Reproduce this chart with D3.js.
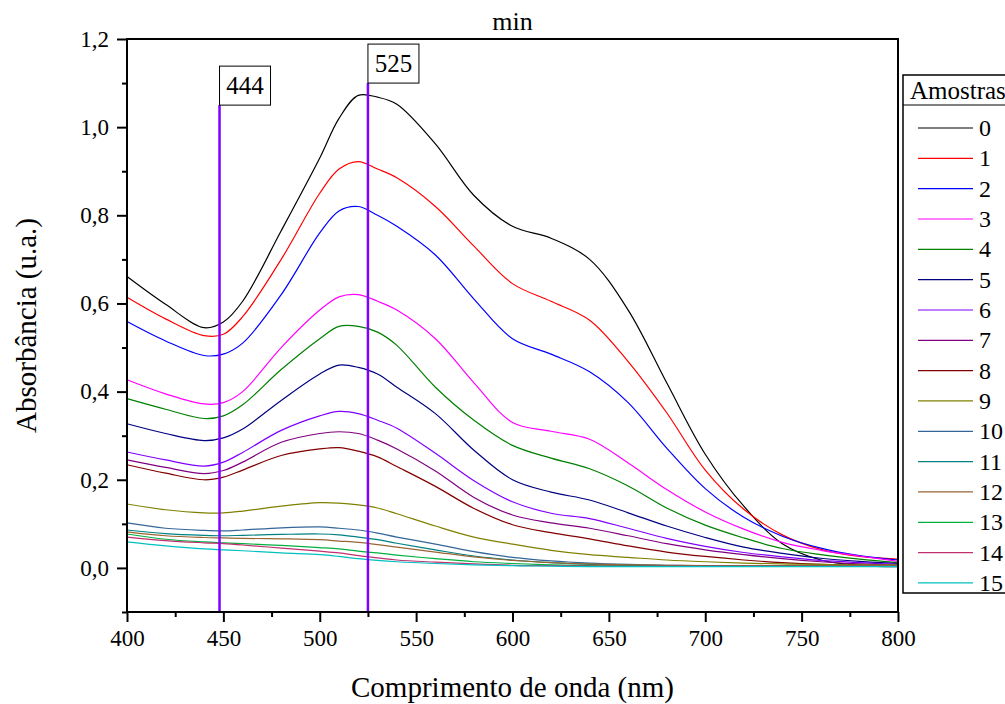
<!DOCTYPE html>
<html><head><meta charset="utf-8">
<script src="https://cdn.jsdelivr.net/npm/d3@7"></script>
</head><body style="margin:0">
<svg id="c" width="1005" height="704" style="font-family:'Liberation Serif','Times New Roman','Nimbus Roman',Tinos,serif"></svg>
<script>
// ---------- data ----------
const wavelengths = [400,420,440,450,460,480,500,510,520,530,540,560,580,600,620,640,660,680,700,720,740,760,780,800];
const s0  = [0.661,0.598,0.545,0.558,0.605,0.765,0.930,1.020,1.072,1.068,1.052,0.962,0.845,0.775,0.748,0.700,0.585,0.420,0.258,0.140,0.055,0.018,0.006,0.003];
const s1  = [0.614,0.565,0.527,0.530,0.570,0.700,0.850,0.905,0.922,0.905,0.885,0.820,0.730,0.645,0.605,0.562,0.468,0.352,0.222,0.133,0.075,0.042,0.026,0.020];
const s2  = [0.559,0.515,0.482,0.485,0.510,0.620,0.760,0.810,0.820,0.800,0.775,0.710,0.610,0.520,0.485,0.445,0.375,0.272,0.180,0.115,0.072,0.045,0.028,0.018];
const s3  = [0.427,0.395,0.372,0.375,0.400,0.500,0.585,0.615,0.620,0.605,0.585,0.520,0.420,0.330,0.310,0.292,0.238,0.178,0.127,0.088,0.058,0.040,0.027,0.015];
const s4  = [0.384,0.360,0.339,0.345,0.370,0.450,0.520,0.548,0.548,0.535,0.505,0.410,0.335,0.278,0.249,0.225,0.186,0.136,0.097,0.068,0.044,0.030,0.020,0.012];
const s5  = [0.327,0.305,0.289,0.295,0.315,0.380,0.440,0.460,0.455,0.440,0.410,0.350,0.267,0.200,0.172,0.154,0.125,0.095,0.069,0.047,0.033,0.022,0.015,0.010];
const s6  = [0.263,0.245,0.231,0.240,0.262,0.312,0.345,0.355,0.350,0.335,0.317,0.260,0.198,0.150,0.124,0.112,0.090,0.067,0.049,0.035,0.025,0.017,0.012,0.008];
const s7  = [0.245,0.228,0.214,0.221,0.240,0.285,0.305,0.309,0.305,0.290,0.270,0.220,0.160,0.120,0.102,0.090,0.073,0.055,0.041,0.030,0.021,0.014,0.009,0.006];
const s8  = [0.234,0.215,0.200,0.206,0.222,0.255,0.270,0.273,0.265,0.252,0.230,0.185,0.135,0.098,0.080,0.066,0.050,0.036,0.026,0.018,0.012,0.008,0.006,0.005];
const s9  = [0.145,0.132,0.125,0.125,0.129,0.140,0.148,0.147,0.143,0.136,0.123,0.095,0.070,0.054,0.040,0.030,0.024,0.018,0.014,0.011,0.009,0.008,0.007,0.007];
const s10 = [0.102,0.090,0.085,0.084,0.086,0.091,0.093,0.090,0.086,0.079,0.070,0.054,0.037,0.024,0.016,0.011,0.008,0.006,0.005,0.004,0.004,0.004,0.004,0.004];
const s11 = [0.086,0.078,0.074,0.073,0.074,0.076,0.077,0.075,0.070,0.064,0.056,0.041,0.027,0.018,0.012,0.008,0.006,0.005,0.005,0.004,0.004,0.004,0.004,0.004];
const s12 = [0.082,0.073,0.069,0.068,0.067,0.066,0.064,0.061,0.058,0.053,0.047,0.036,0.025,0.017,0.012,0.009,0.007,0.006,0.005,0.005,0.005,0.005,0.005,0.005];
const s13 = [0.077,0.065,0.059,0.057,0.055,0.051,0.046,0.043,0.038,0.034,0.029,0.021,0.014,0.010,0.007,0.005,0.005,0.004,0.004,0.004,0.004,0.004,0.004,0.004];
const s14 = [0.070,0.062,0.057,0.055,0.052,0.045,0.038,0.034,0.028,0.023,0.018,0.013,0.009,0.006,0.005,0.004,0.004,0.004,0.004,0.004,0.004,0.004,0.004,0.004];
const s15 = [0.059,0.050,0.043,0.041,0.039,0.034,0.030,0.026,0.021,0.017,0.014,0.010,0.007,0.005,0.004,0.003,0.003,0.003,0.003,0.003,0.003,0.003,0.003,0.003];
const seriesValues = [s0,s1,s2,s3,s4,s5,s6,s7,s8,s9,s10,s11,s12,s13,s14,s15];
const seriesNames = ["0","1","2","3","4","5","6","7","8","9","10","11","12","13","14","15"];
const seriesColors = ["#000000","#ff0000","#0000ff","#ff00ff","#008000","#000080","#8000ff","#800080",
                      "#800000","#808000","#336699","#008080","#996633","#00b040","#c03070","#00c0c0"];
const markerLabels = ["444","525"];
const markerX = [448,525];
const markerTops = [1.05,1.10];
const xTickValues = [400,450,500,550,600,650,700,750,800];
const yTickValues = [0,0.2,0.4,0.6,0.8,1.0,1.2];
const titleText = "min";
const xTitle = "Comprimento de onda (nm)";
const yTitle = "Absorbância (u.a.)";
const legendTitle = "Amostras";

// ---------- layout ----------
const FAM = "Liberation Serif, Times New Roman, Nimbus Roman, Tinos, serif";
const L = 127, R = 898, T = 39, B = 612;
const svg = d3.select("#c");
const x = d3.scaleLinear().domain([400,800]).range([L,R]);
const y = d3.scaleLinear().domain([-0.1,1.2]).range([B,T]);
function serif(sel, size){
  return sel.attr("font-family",FAM).style("font-family","'Liberation Serif','Times New Roman',serif")
            .attr("font-size",size).attr("fill","#000");
}

// curves
const line = d3.line().x((d,i)=>x(wavelengths[i])).y(d=>y(d)).curve(d3.curveCatmullRom.alpha(0.5));
svg.append("g").selectAll("path").data(seriesValues).join("path")
  .attr("d", d=>line(d)).attr("fill","none")
  .attr("stroke",(d,i)=>seriesColors[i]).attr("stroke-width",1.2);

// marker lines
markerX.forEach((mx,i)=>{
  svg.append("line").attr("x1",x(mx)).attr("x2",x(mx)).attr("y1",y(-0.1)).attr("y2",y(markerTops[i]))
    .attr("stroke","#8000ff").attr("stroke-width",2.5);
});
markerX.forEach((mx,i)=>{
  const bx = x(mx), by = y(markerTops[i]);
  svg.append("rect").attr("x",bx).attr("y",by-39).attr("width",51).attr("height",39)
    .attr("fill","#fff").attr("stroke","#000").attr("stroke-width",1);
  serif(svg.append("text").attr("x",bx+25.5).attr("y",by-11).attr("text-anchor","middle"),25).text(markerLabels[i]);
});

// frame
svg.append("rect").attr("x",L).attr("y",T).attr("width",R-L).attr("height",B-T)
  .attr("fill","none").attr("stroke","#000").attr("stroke-width",2);

// axes
const fmt = d=>d.toFixed(1).replace(".",",");
const xAxis = d3.axisBottom(x).tickValues(xTickValues).tickSize(10).tickPadding(8).tickFormat(d3.format("d"));
svg.append("g").attr("transform",`translate(0,${B})`).call(xAxis);
const xMinor = d3.axisBottom(x).tickValues(d3.range(425,800,50)).tickSize(5).tickFormat("");
svg.append("g").attr("transform",`translate(0,${B})`).call(xMinor);
const yAxis = d3.axisLeft(y).tickValues(yTickValues).tickSize(10).tickPadding(8).tickFormat(fmt);
svg.append("g").attr("transform",`translate(${L},0)`).call(yAxis);
const yMinor = d3.axisLeft(y).tickValues([-0.1,0.1,0.3,0.5,0.7,0.9,1.1]).tickSize(5).tickFormat("");
svg.append("g").attr("transform",`translate(${L},0)`).call(yMinor);
svg.selectAll(".domain").remove();
svg.selectAll("g").attr("font-family",FAM).attr("font-size",null);
svg.selectAll(".tick line").attr("stroke","#000").attr("stroke-width",2);
serif(svg.selectAll(".tick text"),23);

// titles
serif(svg.append("text").attr("x",(L+R)/2).attr("y",30).attr("text-anchor","middle"),26).text(titleText);
serif(svg.append("text").attr("x",(L+R)/2).attr("y",697).attr("text-anchor","middle"),29).text(xTitle);
serif(svg.append("text").attr("transform",`translate(36,${(T+B)/2}) rotate(-90)`).attr("text-anchor","middle"),29).text(yTitle);

// legend
const lg = svg.append("g");
lg.append("rect").attr("x",903).attr("y",75).attr("width",120).attr("height",518).attr("fill","#fff").attr("stroke","#000").attr("stroke-width",1.5);
lg.append("line").attr("x1",903).attr("x2",1005).attr("y1",105).attr("y2",105).attr("stroke","#000").attr("stroke-width",1);
serif(lg.append("text").attr("x",910).attr("y",99),25).text(legendTitle);
seriesNames.forEach((n,i)=>{
  const yy = 128 + i*30.33;
  lg.append("line").attr("x1",918).attr("x2",973).attr("y1",yy).attr("y2",yy).attr("stroke",seriesColors[i]).attr("stroke-width",1.2);
  serif(lg.append("text").attr("x",979).attr("y",yy+8),24).text(n);
});
</script>
</body></html>
